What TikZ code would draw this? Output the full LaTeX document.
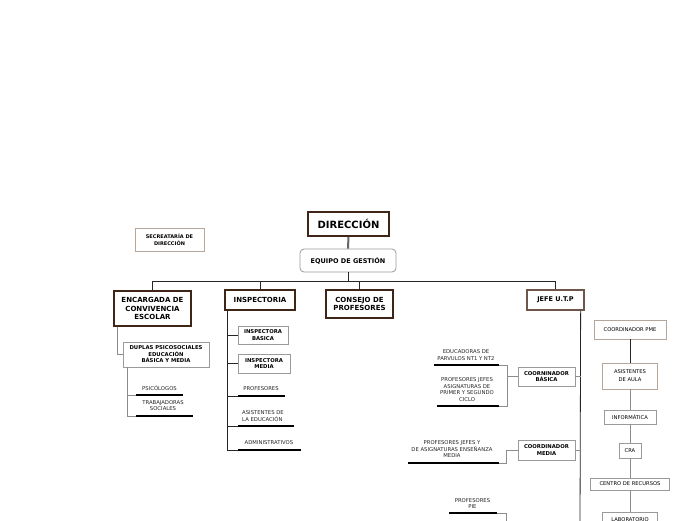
\documentclass[tikz,border=0pt]{standalone}
\usepackage{fontspec}
\setmainfont{DejaVu Sans}
\usepackage{tikz}
\usetikzlibrary{positioning, calc}

\definecolor{marron}{HTML}{3E2516}
\definecolor{marronmedio}{HTML}{6E564A}
\definecolor{marronclaro}{HTML}{B5A69C}
\definecolor{gris}{HTML}{9A9A9A}

\begin{document}
\begin{tikzpicture}[x=1pt, y=-1pt,
  caja/.style={draw=gris, fill=white, line width=0.8pt, inner sep=0pt, align=center, font=\bfseries\fontsize{5.3}{6.5}\selectfont},
  jefa/.style={caja, draw=marron, line width=1.3pt, font=\bfseries\fontsize{7}{8.5}\selectfont},
  suave/.style={caja, draw=marronclaro, font=\fontsize{5.2}{8}\selectfont},
  area/.style={caja, font=\fontsize{5.2}{6.5}\selectfont},
  item/.style={inner sep=0pt, align=center, text=black!85, font=\fontsize{5.3}{6.5}\selectfont},
  barra/.style={line width=2.4pt, black},
  linea/.style={line width=0.8pt, black!85},
  lineagris/.style={line width=0.7pt, black!45},
]
  \clip (0,0) rectangle (696,520);
  \fill[white] (0,0) rectangle (696,520);

  % Direccion
  \node[jefa, line width=1.6pt, font=\bfseries\fontsize{10}{12}\selectfont, minimum width=81pt, minimum height=24pt] (dir) at (348.5,224) {DIRECCIÓN};
  \node[caja, rounded corners=4pt, font=\bfseries\fontsize{6.5}{8}\selectfont, minimum width=96pt, minimum height=23pt] (equipo) at (348,260.5) {EQUIPO DE GESTIÓN};
  \node[suave, font=\bfseries\fontsize{5}{6.5}\selectfont, minimum width=69pt, minimum height=23pt] (secre) at (169.5,239.5) {SECREATARÍA DE\\DIRECCIÓN};
  \draw[line width=2pt, black!60] (dir) -- (equipo);

  % Segundo nivel
  \node[jefa, minimum width=77pt, minimum height=35pt] (encargada) at (152.5,308.5) {ENCARGADA DE\\CONVIVENCIA\\ESCOLAR};
  \node[jefa, minimum width=70pt, minimum height=20pt] (inspectoria) at (260,300) {INSPECTORIA};
  \node[jefa, minimum width=67pt, minimum height=28pt] (consejo) at (359.5,304) {CONSEJO DE\\PROFESORES};
  \node[jefa, draw=marronmedio, font=\bfseries\fontsize{6.5}{8}\selectfont, minimum width=57pt, minimum height=20pt] (jefe) at (555.5,300) {JEFE U.T.P};
  \draw[linea] (equipo.south) -- ++(0,8.5) coordinate (bus);
  \draw[linea] (encargada.north) |- (bus) -| (jefe.north);
  \foreach \n in {inspectoria, consejo}
    \draw[linea] (\n.north) -- (\n.north |- bus);

  % Convivencia
  \node[caja, minimum width=86pt, minimum height=25pt] (duplas) at (166,354.5) {DUPLAS PSICOSOCIALES\\EDUCACIÓN\\BÁSICA Y MEDIA};
  \draw[lineagris] (encargada.south west) ++(4,0) |- (duplas.west);
  \coordinate (psicoA) at (136,395); \coordinate (psicoB) at (183,395);
  \coordinate (trabA) at (136,416); \coordinate (trabB) at (193,416);
  \node[item] (psico) at (159.5,388) {PSICÓLOGOS};
  \node[item] (trab) at (163,405.5) {TRABAJADORAS\\SOCIALES};
  \draw[lineagris] (duplas.south west) ++(5,0) coordinate (dlinea) |- (trabA);
  \draw[lineagris] (dlinea) |- (psicoA);
  \draw[barra] (psicoA) -- (psicoB);
  \draw[barra] (trabA) -- (trabB);

  % Inspectoria
  \node[caja, minimum width=50pt, minimum height=18pt] (inspbas) at (263,335) {INSPECTORA\\BASICA};
  \node[caja, minimum width=52pt, minimum height=19pt] (inspmed) at (264,363.5) {INSPECTORA\\MEDIA};
  \coordinate (profA) at (238,396); \coordinate (profB) at (285,396);
  \coordinate (asisA) at (238,426); \coordinate (asisB) at (294,426);
  \coordinate (adminA) at (238,450); \coordinate (adminB) at (301,450);
  \node[item] (prof) at (261,389) {PROFESORES};
  \node[item, anchor=west, align=left] (asis) at (242,416) {ASISTENTES DE\\LA EDUCACIÓN};
  \node[item] (admin) at (269,443) {ADMINISTRATIVOS};
  \draw[linea] (inspectoria.south west) ++(3,0) coordinate (ilinea) |- (adminA);
  \foreach \n in {inspbas.west, inspmed.west, profA, asisA}
    \draw[linea] (ilinea) |- (\n);
  \draw[barra] (profA) -- (profB);
  \draw[barra] (asisA) -- (asisB);
  \draw[barra] (adminA) -- (adminB);

  % Jefe UTP
  \coordinate (jfin) at (580,525);
  \draw[linea] (jefe.south east) ++(-4,0) coordinate (jlinea) -- (jfin);
  \node[caja, minimum width=57pt, minimum height=19pt] (cbas) at (546.5,376.5) {COORNINADOR\\BÁSICA};
  \node[caja, minimum width=57pt, minimum height=20pt] (cmed) at (546.5,450) {COORDINADOR\\MEDIA};
  \draw[lineagris] (cbas.east) -- (cbas.east -| jlinea);
  \draw[lineagris] (cmed.east) -- (cmed.east -| jlinea);

  \coordinate (educA) at (434,365); \coordinate (educB) at (499,365);
  \coordinate (profjA) at (437,406); \coordinate (profjB) at (499,406);
  \coordinate (medA) at (408,463); \coordinate (medB) at (499,463);
  \coordinate (pieA) at (449,513); \coordinate (pieB) at (497,513);
  \coordinate (piefin) at (506,525);
  \node[item] (educ) at (466,355) {EDUCADORAS DE\\PARVULOS NT1 Y NT2};
  \node[item] (profj) at (467,389.5) {PROFESORES JEFES\\ASIGNATURAS DE\\PRIMER Y SEGUNDO\\CICLO};
  \node[item] (med) at (452,449.5) {PROFESORES JEFES Y\\DE ASIGNATURAS ENSEÑANZA\\MEDIA};
  \node[item] (pie) at (472.5,503.5) {PROFESORES\\PIE};
  \draw[lineagris] (cbas.west) -- ++(-11,0);
  \draw[lineagris] (educB) -- ++(8,0) |- (profjB);
  \draw[lineagris] (cmed.west) -- ++(-11,0) |- (medB);
  \draw[lineagris] (pieB) -| (piefin);
  \foreach \a/\b in {educA/educB, profjA/profjB, medA/medB, pieA/pieB}
    \draw[barra] (\a) -- (\b);

  % Columna derecha
  \node[suave, minimum width=72pt, minimum height=19pt] (pme) at (630,329.5) {COORDINADOR PME};
  \node[suave, minimum width=55pt, minimum height=26pt] (asist) at (630,376) {ASISTENTES\\DE AULA};
  \node[area, minimum width=52pt, minimum height=14pt] (inform) at (630,417) {INFORMÁTICA};
  \node[area, minimum width=22pt, minimum height=15pt] (cra) at (630,450.5) {CRA};
  \node[area, minimum width=79pt, minimum height=12pt] (centro) at (630,484) {CENTRO DE RECURSOS};
  \node[area, minimum width=55pt, minimum height=16pt] (lab) at (630,520) {LABORATORIO};
  \draw[linea] (pme) -- (asist);
  \foreach \a/\b in {asist/inform, inform/cra, cra/centro, centro/lab}
    \draw[lineagris] (\a) -- (\b);
\end{tikzpicture}
\end{document}
